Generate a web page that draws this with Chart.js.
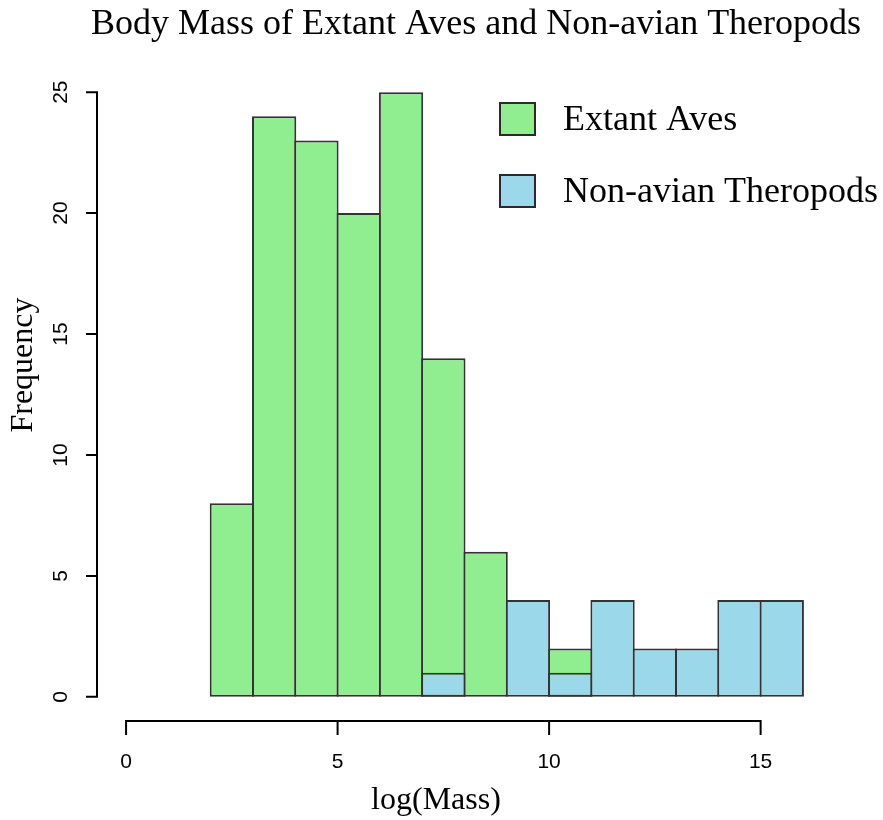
<!DOCTYPE html>
<html>
<head>
<meta charset="utf-8">
<script src="https://cdn.jsdelivr.net/npm/chart.js@4/dist/chart.umd.min.js"></script>
<style>
  html, body { margin: 0; padding: 0; background: #ffffff; }
  #wrap { width: 883px; height: 820px; }
</style>
</head>
<body>
<div id="wrap"><canvas id="c" width="883" height="820"></canvas></div>
<script>
// ---- data ----
const binCenters = [2.5, 3.5, 4.5, 5.5, 6.5, 7.5, 8.5, 9.5, 10.5, 11.5, 12.5, 13.5, 14.5, 15.5];
const avesCounts = [8, 24, 23, 20, 25, 14, 6, null, 2, null, null, null, null, null];
const theropodCounts = [null, null, null, null, null, 1, null, 4, 1, 4, 2, 2, 4, 4];
const xTicks = [0, 5, 10, 15];
const yTicks = [0, 5, 10, 15, 20, 25];
const seriesNames = ["Extant Aves", "Non-avian Theropods"];
const seriesColors = ["#90EE90", "#9BD9EA"];
const titleText = "Body Mass of Extant Aves and Non-avian Theropods";
const xTitle = "log(Mass)";
const yTitle = "Frequency";

const toPoints = (arr) => binCenters.map((x, i) => ({ x: x, y: arr[i] }));

const SERIF = '"Liberation Serif", "Times New Roman", serif';
const SANS = '"Liberation Sans", Arial, sans-serif';
const BORDER = 2;
const BAR_PCT = 1 + BORDER / 42.3;

const axesPlugin = {
  id: 'rAxes',
  afterDraw(chart) {
    const ctx = chart.ctx;
    const xs = chart.scales.x, ys = chart.scales.y;
    const area = chart.chartArea;
    ctx.save();
    ctx.strokeStyle = '#000';
    ctx.fillStyle = '#000';
    ctx.lineWidth = 2;
    ctx.lineCap = 'butt';

    // x axis
    const yAx = area.bottom;
    ctx.beginPath();
    ctx.moveTo(xs.getPixelForValue(xTicks[0]) - 1, yAx);
    ctx.lineTo(xs.getPixelForValue(xTicks[xTicks.length - 1]) + 1, yAx);
    xTicks.forEach(v => {
      const px = xs.getPixelForValue(v);
      ctx.moveTo(px, yAx);
      ctx.lineTo(px, yAx + 14);
    });
    ctx.stroke();
    ctx.font = '21px ' + SANS;
    ctx.textAlign = 'center';
    ctx.textBaseline = 'middle';
    xTicks.forEach(v => ctx.fillText(String(v), xs.getPixelForValue(v), yAx + 41));

    // y axis
    const xAx = area.left - 2;
    ctx.beginPath();
    ctx.moveTo(xAx, ys.getPixelForValue(yTicks[0]) + 1);
    ctx.lineTo(xAx, ys.getPixelForValue(yTicks[yTicks.length - 1]) - 1);
    yTicks.forEach(v => {
      const py = ys.getPixelForValue(v);
      ctx.moveTo(xAx, py);
      ctx.lineTo(xAx - 11, py);
    });
    ctx.stroke();
    yTicks.forEach(v => {
      ctx.save();
      ctx.translate(xAx - 36, ys.getPixelForValue(v));
      ctx.rotate(-Math.PI / 2);
      ctx.fillText(String(v), 0, 0);
      ctx.restore();
    });

    // titles
    ctx.font = '36px ' + SERIF;
    ctx.textBaseline = 'alphabetic';
    ctx.fillText(titleText, 476, 34);

    ctx.font = '32px ' + SERIF;
    ctx.textBaseline = 'middle';
    ctx.fillText(xTitle, 436, 801);
    ctx.save();
    ctx.translate(24, 365);
    ctx.rotate(-Math.PI / 2);
    ctx.fillText(yTitle, 0, 0);
    ctx.restore();

    // legend
    ctx.font = '36px ' + SERIF;
    ctx.textAlign = 'left';
    const legY = [119, 191];
    seriesNames.forEach((name, i) => {
      ctx.fillStyle = seriesColors[i];
      ctx.fillRect(500, legY[i] - 16, 35, 32);
      ctx.lineWidth = 2;
      ctx.strokeStyle = '#2a2a2a';
      ctx.strokeRect(500, legY[i] - 16, 35, 32);
      ctx.fillStyle = '#000';
      ctx.fillText(name, 563, legY[i] + 2);
    });
    ctx.restore();
  }
};

const barStyle = {
  borderColor: '#333333',
  borderWidth: BORDER,
  borderSkipped: false,
  inflateAmount: 0,
  grouped: false,
  barPercentage: BAR_PCT,
  categoryPercentage: 1
};

new Chart(document.getElementById('c'), {
  type: 'bar',
  data: {
    datasets: [
      Object.assign({ label: seriesNames[0], data: toPoints(avesCounts), backgroundColor: seriesColors[0], order: 1 }, barStyle),
      Object.assign({ label: seriesNames[1], data: toPoints(theropodCounts), backgroundColor: seriesColors[1], order: 0 }, barStyle)
    ]
  },
  options: {
    responsive: false,
    animation: false,
    layout: { padding: { left: 99, top: 68, right: 53, bottom: 99 } },
    plugins: { legend: { display: false }, title: { display: false }, tooltip: { enabled: false } },
    scales: {
      x: {
        type: 'linear', min: -0.64, max: 16.64, display: false, offset: false,
        grid: { offset: false },
        afterBuildTicks: (s) => { s.ticks = xTicks.map(v => ({ value: v })); }
      },
      y: {
        type: 'linear', min: -1, max: 26, display: false,
        afterBuildTicks: (s) => { s.ticks = yTicks.map(v => ({ value: v })); }
      }
    }
  },
  plugins: [axesPlugin]
});
</script>
</body>
</html>
